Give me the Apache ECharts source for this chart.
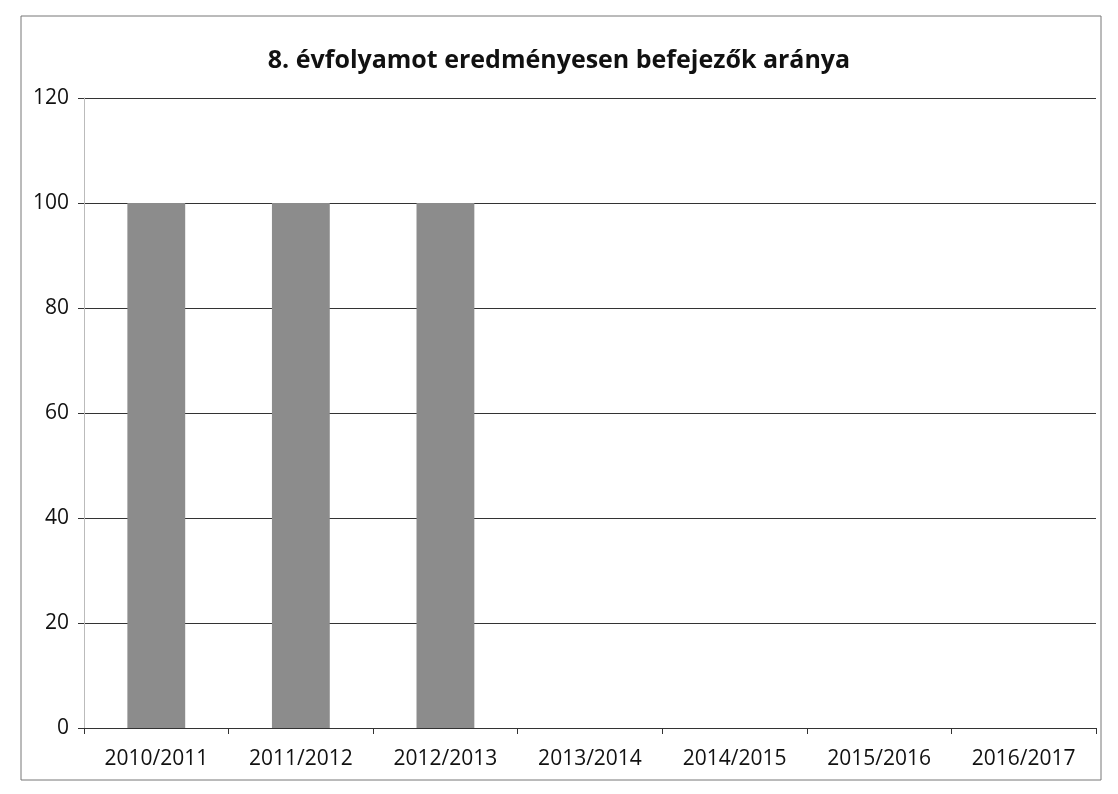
<!DOCTYPE html>
<html>
<head>
<meta charset="utf-8">
<script src="https://cdn.jsdelivr.net/npm/echarts@6/dist/echarts.min.js"></script>
<style>
  html, body { margin: 0; padding: 0; background: #fff; }
  #chart { width: 1118px; height: 794px; }
</style>
</head>
<body>
<div id="chart"></div>
<script>
// tanévek és arányok (%)
const categories = ['2010/2011', '2011/2012', '2012/2013', '2013/2014', '2014/2015', '2015/2016', '2016/2017']
const values = [100, 100, 100, 0, 0, 0, 0]
const yTicks = [0, 20, 40, 60, 80, 100, 120]

const chart = echarts.init(document.getElementById('chart'))
chart.setOption({
  animation: false,
  title: {
    text: '8. évfolyamot eredményesen befejezők aránya',
    left: 'center',
    top: 43,
    textStyle: { fontFamily: 'Open Sans', fontWeight: 'bold', fontSize: 25, color: '#111' },
  },
  graphic: [{
    type: 'rect',
    shape: { x: 21, y: 16, width: 1080, height: 764 },
    style: { fill: 'none', stroke: '#777', lineWidth: 1 },
  }],
  grid: { left: 84, right: 22, top: 98, bottom: 66 },
  xAxis: {
    type: 'category',
    data: categories,
    axisLine: { lineStyle: { color: '#333', width: 1 } },
    axisTick: { show: true, length: 6, lineStyle: { color: '#333' } },
    axisLabel: { fontFamily: 'Open Sans', fontSize: 21, color: '#111', margin: 21 },
  },
  yAxis: {
    type: 'value',
    min: 0,
    max: yTicks[yTicks.length - 1],
    interval: 20,
    axisLine: { show: true, lineStyle: { color: '#bbb' } },
    axisTick: { show: true, length: 6, lineStyle: { color: '#333' } },
    axisLabel: { fontFamily: 'Open Sans', fontSize: 21, color: '#111', margin: 15 },
    splitLine: { lineStyle: { color: '#333', width: 1 } },
  },
  series: [{
    type: 'bar',
    data: values,
    barWidth: '40%',
    itemStyle: { color: '#8c8c8c' },
  }],
})
</script>
</body>
</html>
